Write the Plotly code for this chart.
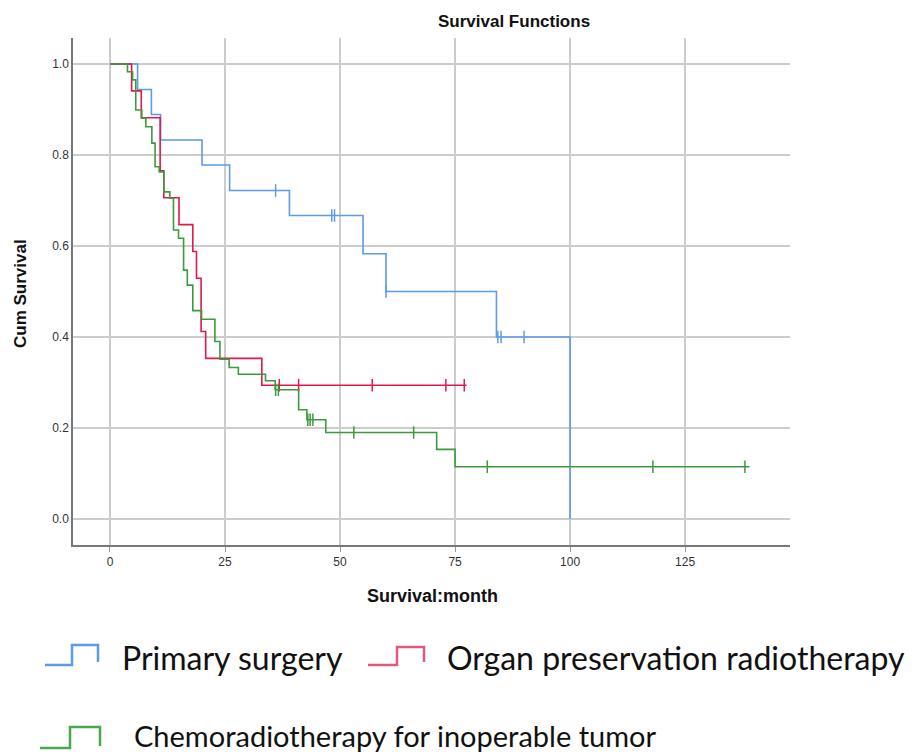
import plotly.graph_objects as go

# ---------------- Data ----------------
months_ticks = [0, 25, 50, 75, 100, 125]
surv_ticks = [0.0, 0.2, 0.4, 0.6, 0.8, 1.0]

group_names = ["Primary surgery", "Organ preservation radiotherapy",
               "Chemoradiotherapy for inoperable tumor"]

ps_times = [0, 6, 9, 11, 20, 26, 39, 55, 60, 84, 100]
ps_surv = [1.0, 0.944, 0.889, 0.833, 0.778, 0.722, 0.667, 0.583, 0.5, 0.4, 0.0]
ps_censor = [36, 48.2, 48.8, 60, 84.3, 85, 90]
ps_end = 100

op_times = [0, 4.7, 6.8, 10.9, 11.7, 15.0, 18.0, 18.8, 19.8, 20.8, 33.0]
op_surv = [1.0, 0.941, 0.882, 0.765, 0.706, 0.647, 0.588, 0.529, 0.412, 0.353, 0.294]
op_censor = [36.8, 41, 57, 73, 77]
op_end = 77.5

cr_times = [0, 3.8, 4.9, 5.6, 6.9, 7.8, 9.1, 9.8, 10.7, 11.7, 13.0, 13.8, 14.9,
            16.0, 16.8, 18.0, 19.9, 22.8, 23.9, 25.9, 27.9, 33.8, 35.9, 41,
            42.8, 46.9, 71, 75]
cr_surv = [1.0, 0.983, 0.965, 0.899, 0.881, 0.862, 0.826, 0.774, 0.763, 0.719,
           0.705, 0.635, 0.617, 0.547, 0.514, 0.458, 0.439, 0.39, 0.351, 0.333,
           0.318, 0.304, 0.284, 0.24, 0.218, 0.19, 0.153, 0.115]
cr_censor = [36.0, 36.6, 43.0, 43.5, 44.1, 53, 66, 82, 118, 138]
cr_end = 139

colors = ["#5b9bea", "#e3174d", "#3c9a3c"]
icon_colors = ["#5b9bea", "#e05a7c", "#4aa84a"]


def step_value(times, surv, t):
    v = surv[0]
    for ti, si in zip(times, surv):
        if ti <= t:
            v = si
    return v


groups = [
    (ps_times, ps_surv, ps_censor, ps_end),
    (op_times, op_surv, op_censor, op_end),
    (cr_times, cr_surv, cr_censor, cr_end),
]

fig = go.Figure()
for (times, surv, cens, end), name, col in zip(groups, group_names, colors):
    xs = list(times)
    ys = list(surv)
    if end > xs[-1]:
        xs.append(end)
        ys.append(surv[-1])
    fig.add_trace(go.Scatter(x=xs, y=ys, mode="lines", line_shape="hv",
                             line=dict(color=col, width=1.6), name=name,
                             showlegend=False, hoverinfo="skip"))
    fig.add_trace(go.Scatter(x=cens, y=[step_value(times, surv, c) for c in cens],
                             mode="markers",
                             marker=dict(symbol="line-ns", size=9,
                                         line=dict(color=col, width=1.5)),
                             showlegend=False, hoverinfo="skip"))

# ---------------- Layout ----------------
W, H = 919, 752
L, R, T, B = 73, 129, 38, 207


def px(x):
    return (x - L) / (W - L - R)


def py(y):
    return (H - B - y) / (H - T - B)


fig.update_layout(
    width=W, height=H,
    margin=dict(l=L, r=R, t=T, b=B, autoexpand=False),
    paper_bgcolor="white", plot_bgcolor="white",
    font=dict(family="Arial, Liberation Sans, sans-serif", color="#222"),
    xaxis=dict(range=[-8.04, 147.8], tickvals=months_ticks,
               ticktext=[str(v) for v in months_ticks],
               showgrid=True, gridcolor="#cccccc", gridwidth=1.5,
               zeroline=False, showline=True, linecolor="#777777", linewidth=1.5,
               ticks="outside", ticklen=5, tickcolor="#999999",
               tickfont=dict(size=12, color="#333")),
    yaxis=dict(range=[-0.0571, 1.0571], tickvals=surv_ticks,
               ticktext=[f"{v:.1f}" for v in surv_ticks],
               showgrid=True, gridcolor="#cccccc", gridwidth=1.5,
               zeroline=False, showline=True, linecolor="#777777", linewidth=1.5,
               ticks="", tickfont=dict(size=12, color="#333")),
    showlegend=False,
)

# Titles
fig.add_annotation(text="<b>Survival Functions</b>", xref="paper", yref="paper",
                   x=px(514), y=py(21), xanchor="center", yanchor="middle",
                   showarrow=False, font=dict(size=17, color="#111"))
fig.add_annotation(text="<b>Survival:month</b>", xref="paper", yref="paper",
                   x=px(432), y=py(596), xanchor="center", yanchor="middle",
                   showarrow=False, font=dict(size=18, color="#111"))
fig.add_annotation(text="<b>Cum Survival</b>", xref="paper", yref="paper",
                   x=px(20), y=py(294), xanchor="center", yanchor="middle",
                   textangle=-90, showarrow=False, font=dict(size=17, color="#111"))

# Custom legend with step-shaped icons
legend_items = [
    (0, 45, 72, 98, 665, 645, 662, 120, 657, 32),
    (1, 368, 397, 424, 665, 647, 662, 445, 657, 32),
    (2, 40, 70, 100, 748, 727, 746, 132, 735, 29),
]
for gi, x0, xm, x1, ylow, yhigh, yend, tx, ty, fs in legend_items:
    path = (f"M {px(x0)},{py(ylow)} L {px(xm)},{py(ylow)} L {px(xm)},{py(yhigh)} "
            f"L {px(x1)},{py(yhigh)} L {px(x1)},{py(yend)}")
    fig.add_shape(type="path", path=path, xref="paper", yref="paper",
                  line=dict(color=icon_colors[gi], width=2.5))
    fig.add_annotation(text=group_names[gi], xref="paper", yref="paper",
                       x=px(tx), y=py(ty), xanchor="left", yanchor="middle",
                       showarrow=False,
                       font=dict(family="Lato, Open Sans, sans-serif", size=fs,
                                 color="#111"))

fig.write_html("out.html", config={"displayModeBar": False},
               post_script="document.body.style.margin='0';document.body.style.padding='0';")
